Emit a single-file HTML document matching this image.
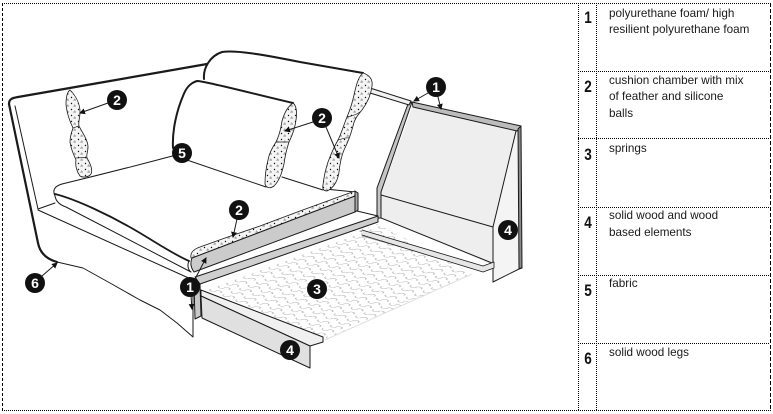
<!DOCTYPE html>
<html><head><meta charset="utf-8">
<style>
html,body{margin:0;padding:0;background:#fff;}
svg{display:block;}
.t{font-family:"Liberation Sans",Arial,sans-serif;font-size:11.7px;fill:#1a1a1a;}
.n{font-family:"Liberation Sans",Arial,sans-serif;font-size:17px;font-weight:bold;fill:#111;}
.lb{font-family:"Liberation Sans",Arial,sans-serif;font-size:14px;font-weight:bold;fill:#fff;text-anchor:middle;}
</style></head><body>
<svg width="773" height="414" viewBox="0 0 773 414" xmlns="http://www.w3.org/2000/svg">
<defs>
<pattern id="dots" width="7" height="6" patternUnits="userSpaceOnUse">
<rect width="7" height="6" fill="#f5f5f5"/>
<circle cx="1.5" cy="1.5" r="0.7" fill="#111"/>
<circle cx="5" cy="4" r="0.6" fill="#333"/>
<path d="M3,5 L5,2" stroke="#888" stroke-width="0.4"/>
</pattern>
<pattern id="spr" width="14" height="9" patternUnits="userSpaceOnUse" patternTransform="matrix(0.926 0.377 0.937 -0.348 205 290)">
<path d="M2,4.5 C2,1 7,1 7,4.5 C7,8 12,8 12,4.5" fill="none" stroke="#a8a8a8" stroke-width="0.8"/>
</pattern>
<marker id="ar" markerWidth="6" markerHeight="6" refX="5" refY="3" orient="auto" markerUnits="userSpaceOnUse">
<path d="M0,0 L6,3 L0,6 Z" fill="#111"/>
</marker>
</defs>
<rect width="773" height="414" fill="#fff"/>

<!-- outer frame -->
<g fill="none" stroke="#000" stroke-width="1">
<line x1="2" y1="3.5" x2="771" y2="3.5" stroke-dasharray="1,1"/>
<line x1="2" y1="410.5" x2="771" y2="410.5" stroke-dasharray="1,1"/>
<line x1="2.5" y1="3" x2="2.5" y2="411" stroke-dasharray="3,2"/>
<line x1="770.5" y1="3" x2="770.5" y2="411" stroke-dasharray="4,2"/>
<line x1="578.5" y1="3" x2="578.5" y2="411" stroke-dasharray="1,1"/>
<line x1="596.5" y1="3" x2="596.5" y2="411" stroke-dasharray="1,1"/>
<line x1="578" y1="71.5" x2="770" y2="71.5" stroke-dasharray="1,1"/>
<line x1="578" y1="138.5" x2="770" y2="138.5" stroke-dasharray="1,1"/>
<line x1="578" y1="207.5" x2="770" y2="207.5" stroke-dasharray="1,1"/>
<line x1="578" y1="275.5" x2="770" y2="275.5" stroke-dasharray="1,1"/>
<line x1="578" y1="343.5" x2="770" y2="343.5" stroke-dasharray="1,1"/>
</g>

<!-- table numbers -->
<text class="n" text-anchor="middle" transform="translate(588,23) scale(0.8,1)">1</text>
<text class="n" text-anchor="middle" transform="translate(588,92) scale(0.8,1)">2</text>
<text class="n" text-anchor="middle" transform="translate(588,160) scale(0.8,1)">3</text>
<text class="n" text-anchor="middle" transform="translate(588,228) scale(0.8,1)">4</text>
<text class="n" text-anchor="middle" transform="translate(588,296) scale(0.8,1)">5</text>
<text class="n" text-anchor="middle" transform="translate(588,364) scale(0.8,1)">6</text>

<!-- table text -->
<text class="t" x="609" y="17">polyurethane foam/ high</text>
<text class="t" x="609" y="33">resilient polyurethane foam</text>
<text class="t" x="609" y="84">cushion chamber with mix</text>
<text class="t" x="609" y="100">of feather and silicone</text>
<text class="t" x="609" y="117">balls</text>
<text class="t" x="609" y="152">springs</text>
<text class="t" x="609" y="219">solid wood and wood</text>
<text class="t" x="609" y="236">based elements</text>
<text class="t" x="609" y="287">fabric</text>
<text class="t" x="609" y="356">solid wood legs</text>

<!-- ===== DRAWING ===== -->
<g stroke="#1a1a1a" stroke-width="1" fill="none" stroke-linejoin="round" stroke-linecap="round">

<!-- springs -->
<path d="M202,292 L378,224 L472,274 L325,340 Z" fill="url(#spr)" stroke="none"/>
<path d="M472,274 L325,340" stroke="#e0e0e0"/>
<path d="M360,231 L410,245" stroke="#777" stroke-width="0.8"/>
<path d="M362,236 L408,249" stroke="#999" stroke-width="0.8"/>

<!-- right panel -->
<path d="M413,106 L518,129 L520,128 L522,268 L493,282 L493,265 L381,218 L381,192 Z" fill="#eeeeee" stroke="none"/>
<path d="M518,129 L493,227 L493,282 L521,268 L521,128 Z" fill="#f4f4f4" stroke="none"/>
<path d="M408,104 L412,102 L381,192 L381,218 L377,218 L377,188 Z" fill="#c4c4c4"/>
<path d="M412,102 L521,126 L517,131 L413,107 Z" fill="#bcbcbc"/>
<path d="M518,129 L521,126 L522,268 L519,269 Z" fill="#8a8a8a"/>
<path d="M516,131 L493,227"/>
<path d="M381,195 L493,227"/>
<path d="M493,227 L493,282"/>
<path d="M493,282 L521,268"/>
<path d="M381,218 L492,263"/>
<path d="M362,230 L483,266 L494,262 L494,268 L483,272 L362,235" fill="#e6e6e6" stroke-width="0.8"/>
<path d="M370,88 L411,101 L409,105 L370,93 Z" fill="#f2f2f2"/>

<!-- left panel -->
<path d="M9,104 C9,99 12,98 18,97 L110,81 L207,64" stroke-width="2.2"/>
<path d="M9,104 L38,243 C40,253 46,259 57,262" stroke-width="2.2"/>
<path d="M15,106 L38,209"/>
<path d="M38,209 L55,203"/>
<path d="M38,210 L193,280"/>
<path d="M57,262 L83,268 L110,283 L140,300 L160,310 L177,323 L193,337 L193,280"/>

<!-- left chamber chain -->
<path d="M70,90 C76,96 80,104 80,112 C80,118 78,122 79,126 C82,132 88,140 88,147 C88,152 86,155 87,158 C90,163 93,170 91,174 C89,177 83,178 80,176 C77,172 75,166 76,160 C74,155 71,150 70,142 C70,136 72,131 73,128 C70,122 67,113 66,105 C66,98 67,92 70,90 Z" fill="url(#dots)" stroke-width="0.8"/>
<path d="M73,128 C76,127 78,126 79,126 M76,158 C79,158 84,157 87,158" stroke-width="0.7"/>

<!-- rear pillow -->
<path d="M204,79 C203,68 210,56 222,52 C235,50 260,54 300,62 L363,73" stroke-width="2"/>
<path d="M282,177 L323,190"/>
<path d="M325,189 L355,192"/>
<path d="M363,73 C369,75 373,79 372,86 C371,95 368,102 362,110 C357,116 354,120 353,126 C351,134 349,140 344,150 C341,157 340,163 339,172 C338,180 334,188 327,191 C324,191 322,189 323,185 C324,176 326,168 328,162 C331,154 334,147 338,140 C342,132 344,124 347,117 C350,110 352,104 354,95 C356,86 358,77 363,73 Z" fill="url(#dots)" stroke-width="0.8"/>
<path d="M347,117 C352,116 356,115 360,112 M338,140 C342,139 346,137 349,138" stroke-width="0.7"/>

<!-- front pillow -->
<path d="M173,148 C172,130 177,110 183,96 C186,88 190,83 197,81 C205,81 250,93 293,103" stroke-width="2"/>
<path d="M187,160 L266,187"/>
<path d="M293,103 C297,106 297,114 296,120 C295,128 292,136 289,142 C287,148 285,156 284,164 C282,172 280,180 274,186 C270,189 266,188 265,184 C265,176 266,168 268,160 C269,154 272,148 276,142 C279,136 281,128 282,121 C284,114 287,107 293,103 Z" fill="url(#dots)" stroke-width="0.8"/>
<path d="M276,142 C280,142 285,142 289,142" stroke-width="0.7"/>

<!-- seat cushion -->
<path d="M55,196 C52,190 55,186 62,184 C95,176 135,166 180,154"/>
<path d="M55,194 C75,199 110,215 140,233 C160,245 175,255 189,261" stroke-width="1.8"/>
<path d="M55,196 C56,202 60,205 66,207 L191,272"/>
<path d="M189,261 C187,265 188,270 191,272"/>

<!-- foam strip + chamber -->
<path d="M191,258 C190,252 194,249 200,247 L225,238 L260,226 L300,211 L355,191 L355,196 L192,258 Z" fill="url(#dots)" stroke-width="0.8"/>
<path d="M192,258 L355,196 L355,212 L194,272 C191,268 190,263 192,258 Z" fill="#cbcbcb"/>
<path d="M355,191 L358,193 L358,210 L355,212 Z" fill="#aaa"/>
<path d="M357,211 L378,216"/>
<path d="M195,277 L378,216 L378,222 L200,284 Z" fill="#cfcfcf"/>
<path d="M194,284 L200,284 L201,316 L195,319 Z" fill="#c8c8c8"/>

<!-- front bottom rail -->
<path d="M201,290 L323,337 L323,342 L310,346 L201,296 Z" fill="#f0f0f0"/>
<path d="M201,296 L310,346 L310,368 L202,318 Z" fill="#e0e0e0"/>

<!-- leader lines -->
<line x1="108" y1="103" x2="80" y2="113" marker-end="url(#ar)"/>
<line x1="313" y1="122" x2="285" y2="131" marker-end="url(#ar)"/>
<line x1="326" y1="127" x2="339" y2="158" marker-end="url(#ar)"/>
<line x1="428" y1="93" x2="414" y2="101" marker-end="url(#ar)"/>
<line x1="438" y1="97" x2="441" y2="109" marker-end="url(#ar)"/>
<line x1="237" y1="219" x2="233" y2="237" marker-end="url(#ar)"/>
<line x1="195" y1="279" x2="206" y2="258" marker-end="url(#ar)"/>
<line x1="191" y1="296" x2="192" y2="309" marker-end="url(#ar)"/>
<line x1="42" y1="276" x2="57" y2="263" marker-end="url(#ar)"/>
</g>

<!-- label circles -->
<g fill="#111">
<circle cx="117" cy="100" r="10"/>
<circle cx="182" cy="153" r="10"/>
<circle cx="322" cy="118" r="10"/>
<circle cx="436" cy="87" r="10"/>
<circle cx="239" cy="210" r="10"/>
<circle cx="508" cy="230" r="10"/>
<circle cx="190" cy="287" r="10"/>
<circle cx="317" cy="289" r="10"/>
<circle cx="35" cy="283" r="10"/>
<circle cx="290" cy="350" r="10"/>
</g>
<text class="lb" x="117" y="105">2</text>
<text class="lb" x="182" y="158">5</text>
<text class="lb" x="322" y="123">2</text>
<text class="lb" x="436" y="92">1</text>
<text class="lb" x="239" y="215">2</text>
<text class="lb" x="508" y="235">4</text>
<text class="lb" x="190" y="292">1</text>
<text class="lb" x="317" y="294">3</text>
<text class="lb" x="35" y="288">6</text>
<text class="lb" x="290" y="355">4</text>
</svg>
</body></html>
